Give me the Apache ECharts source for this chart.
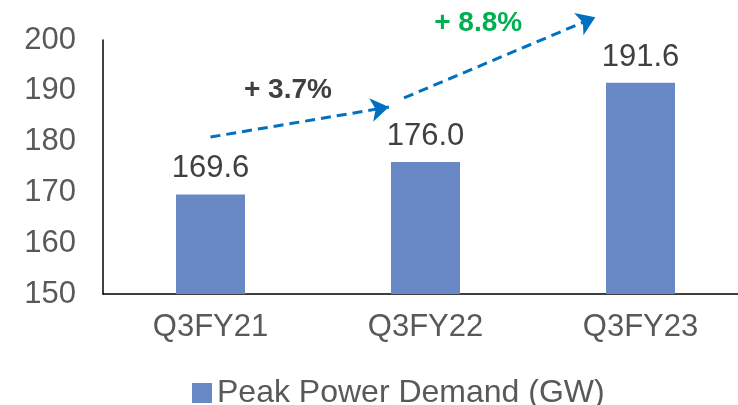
<!DOCTYPE html>
<html>
<head>
<meta charset="utf-8">
<script src="https://cdn.jsdelivr.net/npm/echarts@6/dist/echarts.min.js"></script>
<style>
  html, body { margin: 0; padding: 0; background: #ffffff; }
  #main { width: 738px; height: 405px; }
</style>
</head>
<body>
<div id="main"></div>
<script>
// 数据
var categories = ['Q3FY21', 'Q3FY22', 'Q3FY23'];
var demand = [169.6, 176.0, 191.6];
var seriesName = 'Peak Power Demand (GW)';
var yTicks = [150, 160, 170, 180, 190, 200];

// growth arrows, in (category position, value) space; categories sit at 0.5, 1.5, 2.5
var arrowFrom = [[0.5, 180.9], [1.4, 188.6]];
var arrowTo = [[1.33, 186.8], [2.29, 204.5]];
var growthText = ['+ 3.7%', '+ 8.8%'];
var growthPos = [[0.86, 190.2], [1.745, 203.2]];
var growthColor = ['#404040', '#00b050'];

var myChart = echarts.init(document.getElementById('main'));

var arrowData = arrowFrom.map(function (p, i) {
    return { coords: [p, arrowTo[i]] };
});
var growthData = growthPos.map(function (p, i) {
    return {
        value: p,
        label: { formatter: growthText[i], color: growthColor[i] }
    };
});

var option = {
    animation: false,
    textStyle: { fontFamily: 'Liberation Sans, Arial, sans-serif' },
    grid: {
        left: 103, top: 40, width: 645, height: 254,
        containLabel: false,
        outerBoundsMode: 'none'
    },
    legend: {
        data: [seriesName],
        top: 372,
        left: 187,
        icon: 'rect',
        itemWidth: 20,
        itemHeight: 20,
        textStyle: { fontSize: 32, color: '#595959' }
    },
    xAxis: [
        {
            type: 'category',
            data: categories,
            axisLine: { lineStyle: { color: '#000000', width: 1.5 } },
            axisTick: { show: false },
            axisLabel: { fontSize: 31, color: '#595959', margin: 18 }
        },
        {
            type: 'value',
            min: 0,
            max: 3,
            show: false
        }
    ],
    yAxis: {
        type: 'value',
        min: yTicks[0],
        max: yTicks[yTicks.length - 1],
        interval: 10,
        splitLine: { show: false },
        axisLine: { show: true, lineStyle: { color: '#000000', width: 1.5 } },
        axisTick: { show: false },
        axisLabel: { fontSize: 31, color: '#595959', margin: 27 }
    },
    series: [
        {
            name: seriesName,
            type: 'bar',
            data: demand,
            barWidth: 69,
            itemStyle: { color: '#6889c5' },
            label: {
                show: true,
                position: 'top',
                distance: 10,
                fontSize: 31,
                color: '#404040',
                formatter: function (p) { return p.value.toFixed(1); }
            }
        },
        {
            type: 'lines',
            coordinateSystem: 'cartesian2d',
            xAxisIndex: 1,
            yAxisIndex: 0,
            clip: false,
            symbol: ['none', 'arrow'],
            symbolSize: 18,
            lineStyle: { color: '#0070c0', width: 3, type: [10, 6], opacity: 1 },
            data: arrowData,
            silent: true
        },
        {
            type: 'scatter',
            xAxisIndex: 1,
            yAxisIndex: 0,
            clip: false,
            symbolSize: 0,
            itemStyle: { opacity: 1 },
            data: growthData,
            label: {
                show: true,
                position: 'inside',
                fontSize: 28,
                fontWeight: 'bold',
                opacity: 1,
                textBorderWidth: 0
            },
            silent: true
        }
    ]
};
myChart.setOption(option);
</script>
</body>
</html>
